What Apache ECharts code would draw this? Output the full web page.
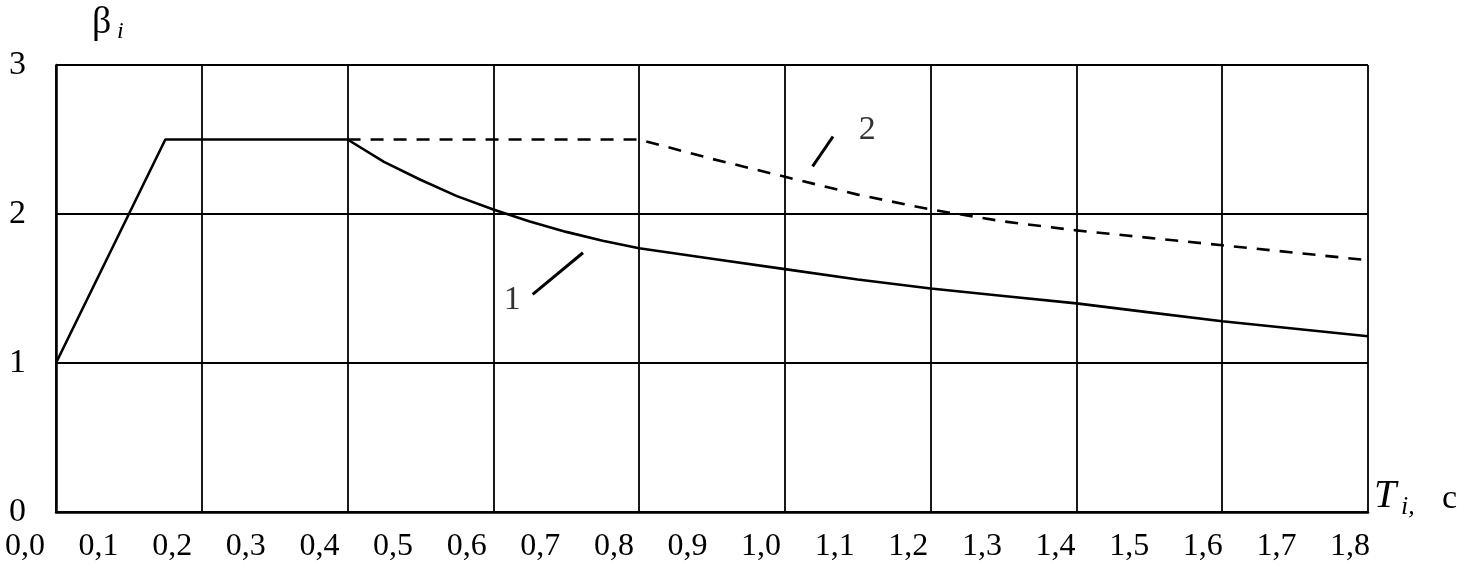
<!DOCTYPE html>
<html>
<head>
<meta charset="utf-8">
<script src="https://cdn.jsdelivr.net/npm/echarts@6/dist/echarts.min.js"></script>
<style>
html,body{margin:0;padding:0;background:#fff;}
#chart{width:1476px;height:577px;}
</style>
</head>
<body>
<div id="chart"></div>
<script>
// Curve 1 (solid)
const T1 = [0, 0.15, 0.4, 0.45, 0.5, 0.55, 0.6, 0.65, 0.7, 0.75, 0.8, 0.9, 1.0, 1.1, 1.2, 1.3, 1.4, 1.5, 1.6, 1.7, 1.8];
const B1 = [1, 2.5, 2.5, 2.35, 2.23, 2.12, 2.03, 1.95, 1.88, 1.82, 1.77, 1.70, 1.63, 1.56, 1.50, 1.45, 1.40, 1.34, 1.28, 1.23, 1.18];
// Curve 2 (dashed)
const T2 = [0.4, 0.8, 0.9, 1.0, 1.1, 1.2, 1.3, 1.4, 1.5, 1.6, 1.7, 1.8];
const B2 = [2.5, 2.5, 2.37, 2.25, 2.13, 2.03, 1.95, 1.89, 1.84, 1.79, 1.74, 1.69];
// Leader lines for curve labels
const leader1 = [[0.654, 1.46], [0.723, 1.74]];
const leader2 = [[1.038, 2.32], [1.066, 2.52]];
const curveLabels = [[0.626, 1.42, '1'], [1.113, 2.56, '2']];
// Tick labels
const xTickLabels = ['0,0','0,1','0,2','0,3','0,4','0,5','0,6','0,7','0,8','0,9','1,0','1,1','1,2','1,3','1,4','1,5','1,6','1,7','1,8'];
const yTickLabels = ['0','1','2','3'];

const FONT = '"Liberation Serif", "DejaVu Serif", serif';
const zip = (a, b) => a.map((v, i) => [v, b[i]]);

const chart = echarts.init(document.getElementById('chart'), null, {renderer: 'canvas'});
chart.setOption({
  backgroundColor: '#fff',
  animation: false,
  grid: [
    {left: 56, right: 108, top: 65, bottom: 65},
    {left: 25, right: 126, top: 65, bottom: 65}
  ],
  xAxis: [
    {
      type: 'value', gridIndex: 0, min: 0, max: 1.8, interval: 0.2,
      axisLine: {show: true, lineStyle: {color: '#000', width: 2.5}},
      axisTick: {show: false}, axisLabel: {show: false},
      splitLine: {show: true, lineStyle: {color: '#000', width: 1.8}}
    },
    {
      type: 'value', gridIndex: 1, min: 0, max: 1.8, interval: 0.1,
      axisLine: {show: false}, axisTick: {show: false}, splitLine: {show: false},
      axisLabel: {
        show: true, margin: 19, color: '#000', fontSize: 32, fontFamily: FONT,
        formatter: v => xTickLabels[Math.round(v * 10)]
      }
    }
  ],
  yAxis: [
    {
      type: 'value', gridIndex: 0, min: 0, max: 3, interval: 1,
      axisLine: {show: true, lineStyle: {color: '#000', width: 2.5}},
      axisTick: {show: false},
      axisLabel: {
        show: true, margin: 30, color: '#000', fontSize: 34, fontFamily: FONT,
        padding: [0, 0, 10, 0],
        formatter: v => yTickLabels[Math.round(v)]
      },
      splitLine: {show: true, lineStyle: {color: '#000', width: 1.8}}
    },
    {
      type: 'value', gridIndex: 1, min: 0, max: 3, show: false
    }
  ],
  graphic: [
    {type: 'text', left: 92, top: 4, style: {text: 'β', font: '38px ' + FONT, fill: '#000'}},
    {type: 'text', left: 117, top: 20, style: {text: 'i', font: 'italic 24px ' + FONT, fill: '#000'}},
    {type: 'text', left: 1374, top: 476, style: {text: 'T', font: 'italic 40px ' + FONT, fill: '#000'}},
    {type: 'text', left: 1401, top: 494, style: {text: 'i,', font: 'italic 26px ' + FONT, fill: '#000'}},
    {type: 'text', left: 1442, top: 482, style: {text: 'c', font: '34px ' + FONT, fill: '#000'}}
  ],
  series: [
    {
      type: 'line', xAxisIndex: 0, yAxisIndex: 0, data: zip(T1, B1),
      showSymbol: false, lineStyle: {color: '#000', width: 2.6}
    },
    {
      type: 'line', xAxisIndex: 0, yAxisIndex: 0, data: zip(T2, B2),
      showSymbol: false, lineStyle: {color: '#000', width: 2.6, type: [13, 10]}
    },
    {
      type: 'line', xAxisIndex: 0, yAxisIndex: 0, data: leader1,
      showSymbol: false, lineStyle: {color: '#000', width: 3}
    },
    {
      type: 'line', xAxisIndex: 0, yAxisIndex: 0, data: leader2,
      showSymbol: false, lineStyle: {color: '#000', width: 3}
    },
    {
      type: 'scatter', xAxisIndex: 0, yAxisIndex: 0, symbolSize: 1,
      itemStyle: {color: 'rgba(0,0,0,0)'},
      data: curveLabels.map(d => ({value: [d[0], d[1]], name: d[2]})),
      label: {
        show: true, position: 'inside', formatter: p => p.name,
        color: '#000', fontSize: 34, fontFamily: FONT, textBorderWidth: 0
      }
    }
  ]
});
</script>
</body>
</html>
